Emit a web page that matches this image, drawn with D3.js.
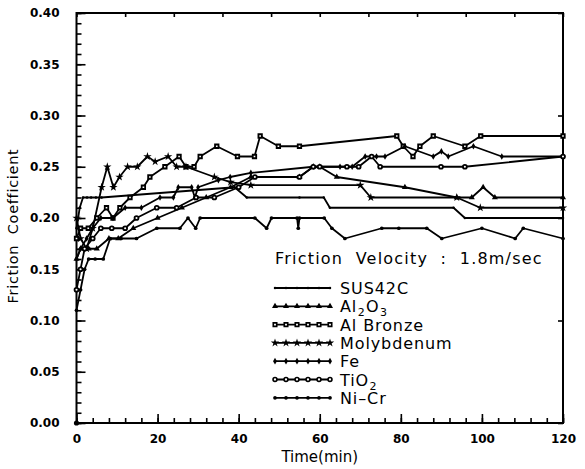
<!DOCTYPE html>
<html>
<head>
<meta charset="utf-8">
<script src="https://cdn.jsdelivr.net/npm/d3@7"></script>
<style>
  body { margin: 0; background: #fff; }
  svg { display: block; font-family: 'DejaVu Sans', sans-serif; }
  .tick text { font-family: 'DejaVu Sans', sans-serif; font-weight: bold; font-size: 12px; fill: #000; }
  .tick line { stroke: #000; stroke-width: 1.6; }
</style>
</head>
<body>
<svg width="585" height="469"></svg>
<script>
// values, [time (min), friction coefficient]
const sus42c = [[0,0.19],[0.8,0.21],[1.6,0.22],[2.6,0.22],[3.6,0.22],[4.8,0.22],[6.2,0.22],[39,0.23],[42,0.22],[55,0.22],[61,0.22],[62.5,0.21],[93,0.21],[95.8,0.20],[120,0.20]];
const al2o3 = [[0,0.16],[1,0.17],[3,0.17],[5,0.17],[8,0.18],[10.3,0.18],[14,0.19],[20,0.20],[26,0.21],[32,0.22],[38,0.23],[43,0.24],[55,0.24],[58.4,0.25],[60,0.25],[64.2,0.24],[81,0.23],[93.8,0.22],[97.5,0.22],[100.3,0.23],[103.2,0.22],[120,0.22]];
const alBronze = [[0,0.18],[1,0.19],[2.9,0.19],[5,0.20],[7.4,0.21],[9,0.20],[10.7,0.21],[13.2,0.22],[16.5,0.23],[18.1,0.24],[21.8,0.25],[25.3,0.26],[27,0.25],[29,0.25],[30.5,0.26],[34.6,0.27],[39.7,0.26],[43.9,0.26],[45.3,0.28],[49.8,0.27],[55,0.27],[79,0.28],[80.6,0.27],[83,0.26],[84.7,0.27],[88,0.28],[95.8,0.27],[99.7,0.28],[120,0.28]];
const molybdenum = [[0,0.20],[1,0.18],[2.5,0.17],[4,0.19],[6.2,0.23],[7.6,0.25],[9.1,0.23],[10.6,0.24],[12.6,0.25],[15,0.25],[17.5,0.26],[19.4,0.255],[22.6,0.26],[24.7,0.25],[27,0.25],[34,0.24],[38,0.235],[43,0.232],[70,0.232],[72.6,0.22],[93.8,0.22],[99.6,0.21],[120,0.21]];
const fe = [[0,0.16],[1,0.17],[2.5,0.18],[4,0.19],[6,0.20],[9,0.20],[12,0.21],[16,0.21],[20.6,0.22],[23.9,0.22],[25.1,0.23],[28.4,0.23],[29.2,0.22],[30,0.23],[35,0.237],[37.9,0.24],[43,0.244],[58.4,0.25],[65,0.25],[68,0.25],[71.2,0.26],[74,0.26],[76.1,0.26],[81,0.27],[88,0.26],[90,0.265],[91.7,0.26],[97.9,0.27],[104.9,0.26],[120,0.26]];
const tio2 = [[0,0.13],[1,0.15],[2,0.17],[4,0.18],[6,0.19],[8.7,0.19],[12,0.19],[14.8,0.20],[19.8,0.21],[24.7,0.21],[29.5,0.22],[34,0.22],[40,0.23],[44,0.24],[55,0.24],[58.4,0.25],[60,0.25],[66.7,0.25],[69.6,0.25],[72.8,0.26],[74.9,0.25],[89.9,0.25],[95.8,0.25],[120,0.26]];
const niCr = [[0,0.11],[1,0.13],[2,0.15],[3,0.16],[4.6,0.16],[6.6,0.16],[8.3,0.18],[11,0.18],[14.8,0.18],[19.8,0.19],[25.5,0.19],[27.5,0.20],[29.4,0.19],[30.5,0.20],[44,0.20],[46.9,0.19],[48.1,0.20],[54.4,0.20],[54.7,0.19],[55,0.20],[61.1,0.20],[63,0.19],[66.2,0.18],[75.3,0.19],[79.5,0.19],[86.4,0.19],[90.1,0.18],[100,0.19],[108.2,0.18],[110.2,0.19],[120,0.18]];

// legend labels split into [text, isSubscript] runs
const seriesLabels = [
  [['SUS42C', false]],
  [['Al', false], ['2', true], ['O', false], ['3', true]],
  [['Al Bronze', false]],
  [['Molybdenum', false]],
  [['Fe', false]],
  [['TiO', false], ['2', true]],
  [['Ni–Cr', false]]
];
const xTicks = [0, 20, 40, 60, 80, 100, 120];
const xMinorTicks = d3.range(0, 121, 4);
const yTicks = [0, 0.05, 0.10, 0.15, 0.20, 0.25, 0.30, 0.35, 0.40];
const yMinorTicks = d3.range(0, 41).map(d => d / 100);
const topTicks = d3.range(0, 121, 12);
const rightTicks = [0, 0.1, 0.2, 0.3, 0.4];

const svg = d3.select('svg');
const width = +svg.attr('width');
const height = +svg.attr('height');
const margin = { top: 13, right: 22, bottom: 46, left: 76.5 };
const innerWidth = width - margin.left - margin.right;
const innerHeight = height - margin.top - margin.bottom;

const xScale = d3.scaleLinear().domain([0, 120]).range([0, innerWidth]);
const yScale = d3.scaleLinear().domain([0, 0.4]).range([innerHeight, 0]);

const g = svg.append('g')
  .attr('transform', `translate(${margin.left},${margin.top})`);

// tick-only axes (no labels), ticks point inward like the original
const bareAxis = (axis, transform) => {
  const a = g.append('g').attr('transform', transform || null).call(axis);
  a.select('.domain').remove();
  a.selectAll('text').remove();
};

bareAxis(d3.axisBottom(xScale).tickValues(xMinorTicks).tickSize(-5), `translate(0,${innerHeight})`);
bareAxis(d3.axisLeft(yScale).tickValues(yMinorTicks).tickSize(-5));
bareAxis(d3.axisTop(xScale).tickValues(topTicks).tickSize(-4));
bareAxis(d3.axisRight(yScale).tickValues(rightTicks).tickSize(-5), `translate(${innerWidth},0)`);

const xAxisG = g.append('g').attr('transform', `translate(0,${innerHeight})`)
  .call(d3.axisBottom(xScale).tickValues(xTicks).tickSize(-9).tickPadding(11));
xAxisG.select('.domain').remove();

const yAxisG = g.append('g')
  .call(d3.axisLeft(yScale).tickValues(yTicks).tickSize(-9).tickPadding(17).tickFormat(d3.format('.2f')));
yAxisG.select('.domain').remove();

g.append('rect')
  .attr('width', innerWidth).attr('height', innerHeight)
  .attr('fill', 'none').attr('stroke', '#000').attr('stroke-width', 2);

const markers = [
  { type: d3.symbolCircle, size: 5, fill: '#000', stroke: 'none' },
  { type: d3.symbolTriangle, size: 16, fill: '#000', stroke: 'none' },
  { type: d3.symbolSquare, size: 12, fill: '#fff', stroke: '#000' },
  { type: d3.symbolStar, size: 22, fill: '#000', stroke: 'none' },
  { type: d3.symbolDiamond, size: 13, fill: '#000', stroke: 'none' },
  { type: d3.symbolCircle, size: 12, fill: '#fff', stroke: '#000' },
  { type: d3.symbolCircle, size: 11, fill: '#000', stroke: 'none' }
];
const seriesData = [sus42c, al2o3, alBronze, molybdenum, fe, tio2, niCr];
const series = seriesData.map((values, i) => ({ label: seriesLabels[i], values, marker: markers[i] }));

const line = d3.line()
  .x(d => xScale(d[0]))
  .y(d => yScale(d[1]));

series.forEach(s => {
  g.append('path')
    .datum(s.values)
    .attr('d', line)
    .attr('fill', 'none')
    .attr('stroke', '#000')
    .attr('stroke-width', 1.8)
    .attr('stroke-linejoin', 'round');

  g.selectAll(null).data(s.values)
    .enter().append('path')
      .attr('transform', d => `translate(${xScale(d[0])},${yScale(d[1])})`)
      .attr('d', d3.symbol().type(s.marker.type).size(s.marker.size))
      .attr('fill', s.marker.fill)
      .attr('stroke', s.marker.stroke)
      .attr('stroke-width', 1.8);
});

// dot sitting on the origin in the scan
g.append('circle')
  .attr('cx', xScale(0)).attr('cy', yScale(0)).attr('r', 2.6);

// axis titles
svg.append('text')
  .attr('x', margin.left + innerWidth / 2)
  .attr('y', 462)
  .attr('text-anchor', 'middle')
  .attr('font-size', 15)
  .text('Time(min)');

svg.append('text')
  .attr('transform', `translate(18,${margin.top + innerHeight / 2 + 8}) rotate(-90)`)
  .attr('text-anchor', 'middle')
  .attr('font-size', 14.5)
  .attr('letter-spacing', 0.7)
  .style('white-space', 'pre')
  .text('Friction  Coefficient');

// legend
const legend = svg.append('g').attr('transform', 'translate(275,0)');
legend.append('text')
  .attr('x', 0).attr('y', 264)
  .attr('font-size', 16)
  .attr('letter-spacing', 1.2)
  .style('white-space', 'pre')
  .text('Friction  Velocity  :  1.8m/sec');

const rowY = i => 288 + i * 18.3;
const markX = d3.range(6).map(i => i * 11);

series.forEach((s, i) => {
  const row = legend.append('g').attr('transform', `translate(0,${rowY(i)})`);
  row.append('line')
    .attr('x1', 0).attr('x2', 55)
    .attr('stroke', '#000').attr('stroke-width', 1.8);
  row.selectAll(null).data(markX)
    .enter().append('path')
      .attr('transform', d => `translate(${d},0)`)
      .attr('d', d3.symbol().type(s.marker.type).size(s.marker.size))
      .attr('fill', s.marker.fill)
      .attr('stroke', s.marker.stroke)
      .attr('stroke-width', 1.6);

  // each run is its own text so subscripts sit after the previous run
  let x = 65;
  s.label.forEach(([str, sub]) => {
    const t = row.append('text')
      .attr('x', x)
      .attr('y', sub ? 10 : 6)
      .attr('font-size', sub ? 11 : 16)
      .attr('letter-spacing', 0.9)
      .style('white-space', 'pre')
      .text(str);
    x += t.node().getComputedTextLength() + 0.5;
  });
});
</script>
</body>
</html>
